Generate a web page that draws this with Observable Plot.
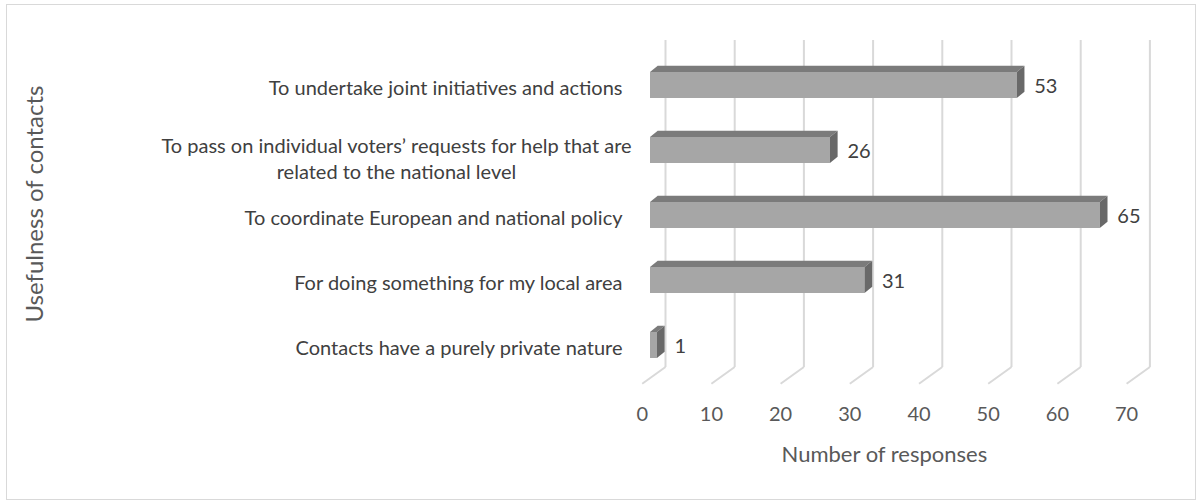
<!DOCTYPE html>
<html>
<head>
<meta charset="utf-8">
<script src="https://cdn.jsdelivr.net/npm/d3@7"></script>
<script src="https://cdn.jsdelivr.net/npm/@observablehq/plot@0.6"></script>
<style>
  html, body { margin: 0; padding: 0; background: #fff; }
  #wrap { position: relative; width: 1198px; height: 502px; }
  #border { position: absolute; left: 6px; top: 4px; width: 1190px; height: 496px; border: 1px solid #d9d9d9; box-sizing: border-box; }
  #chart { position: absolute; left: 0; top: 0; }
</style>
</head>
<body>
<div id="wrap"><div id="border"></div><div id="chart"></div></div>
<script>
// ---- data ----
const categories = [
  "To undertake joint initiatives and actions",
  "To pass on individual voters’ requests for help that are\nrelated to the national level",
  "To coordinate European and national policy",
  "For doing something for my local area",
  "Contacts have a purely private nature"
];
const responses = [53, 26, 65, 31, 1];
const tickValues = [0, 10, 20, 30, 40, 50, 60, 70];
const xTitle = "Number of responses";
const yTitle = "Usefulness of contacts";

const data = categories.map((c, i) => ({category: c, value: responses[i]}));
const singleLine = data.filter(d => !d.category.includes("\n"));
const multiLine = data.filter(d => d.category.includes("\n"));

// ---- styling / oblique 3D geometry ----
const FONT = "Lato, 'Open Sans', sans-serif";
const BACK_DX = 15;            // back wall offset from bar front plane
const FRONT_DX = -8.3;         // front floor edge offset from bar front plane
const FLOOR_DY = 16.7;         // floor depth (vertical)
const BAR_DX = 7.7, BAR_DY = 6.3; // bar depth
const svgns = "http://www.w3.org/2000/svg";

function bar3d(index, scales, values, dimensions, context, next) {
  const g = next(index, scales, values, dimensions, context);
  for (const rect of Array.from(g.querySelectorAll("rect"))) {
    const x = +rect.getAttribute("x"), y = +rect.getAttribute("y");
    const w = +rect.getAttribute("width"), h = +rect.getAttribute("height");
    const top = document.createElementNS(svgns, "polygon");
    top.setAttribute("points", `${x},${y} ${x + w},${y} ${x + w + BAR_DX},${y - BAR_DY} ${x + BAR_DX},${y - BAR_DY}`);
    top.setAttribute("fill", "#7b7b7b");
    const side = document.createElementNS(svgns, "polygon");
    side.setAttribute("points", `${x + w},${y} ${x + w + BAR_DX},${y - BAR_DY} ${x + w + BAR_DX},${y + h - BAR_DY} ${x + w},${y + h}`);
    side.setAttribute("fill", "#696969");
    rect.after(top, side);
  }
  return g;
}

function floorLinks(index, scales, values, dimensions, context, next) {
  const g = next(index, scales, values, dimensions, context);
  const yb = dimensions.height - dimensions.marginBottom;
  for (const line of Array.from(g.querySelectorAll("line"))) {
    const x = +line.getAttribute("x1");
    line.setAttribute("x1", x + BACK_DX);
    line.setAttribute("x2", x + FRONT_DX);
    line.setAttribute("y1", yb);
    line.setAttribute("y2", yb + FLOOR_DY);
  }
  return g;
}

const chart = Plot.plot({
  width: 1198,
  height: 502,
  marginTop: 40,
  marginBottom: 135,
  marginLeft: 0,
  marginRight: 0,
  style: {fontFamily: FONT, background: "transparent", overflow: "visible"},
  x: {domain: [0, 70], range: [650, 650 + 70 * 6.92], axis: null},
  y: {type: "band", domain: categories, range: [52.2, 377.2], paddingInner: 0.6, paddingOuter: 0.3, align: 0.5, axis: null},
  marks: [
    Plot.ruleX(tickValues, {x: d => d, dx: BACK_DX, stroke: "#d9d9d9", strokeWidth: 2}),
    Plot.ruleX(tickValues, {x: d => d, stroke: "#d9d9d9", strokeWidth: 2, render: floorLinks}),
    Plot.barX(data, {x: "value", y: "category", fill: "#a6a6a6", render: bar3d}),
    Plot.text(data, {x: "value", y: "category", text: d => String(d.value), dx: 17, dy: 1, textAnchor: "start", fontSize: 20, fill: "#404040"}),
    Plot.text(singleLine, {y: "category", text: "category", frameAnchor: "left", dx: 622, dy: 3, textAnchor: "end", fontSize: 20, fill: "#404040"}),
    Plot.text(multiLine, {y: "category", text: "category", frameAnchor: "left", dx: 396, dy: 7, textAnchor: "middle", fontSize: 20, fill: "#404040", lineHeight: 1.3}),
    Plot.text(tickValues, {x: d => d, text: d => String(d), frameAnchor: "bottom", dx: FRONT_DX, dy: 53, fontSize: 20, fill: "#595959"}),
    Plot.text([xTitle], {x: () => (tickValues[0] + tickValues[tickValues.length - 1]) / 2, text: d => d, frameAnchor: "bottom", dx: FRONT_DX, dy: 94, fontSize: 22, fill: "#595959"}),
    Plot.text([yTitle], {text: d => d, frameAnchor: "left", dx: 35, rotate: -90, textAnchor: "middle", fontSize: 24, fill: "#595959"})
  ]
});
document.getElementById("chart").appendChild(chart);
</script>
</body>
</html>
